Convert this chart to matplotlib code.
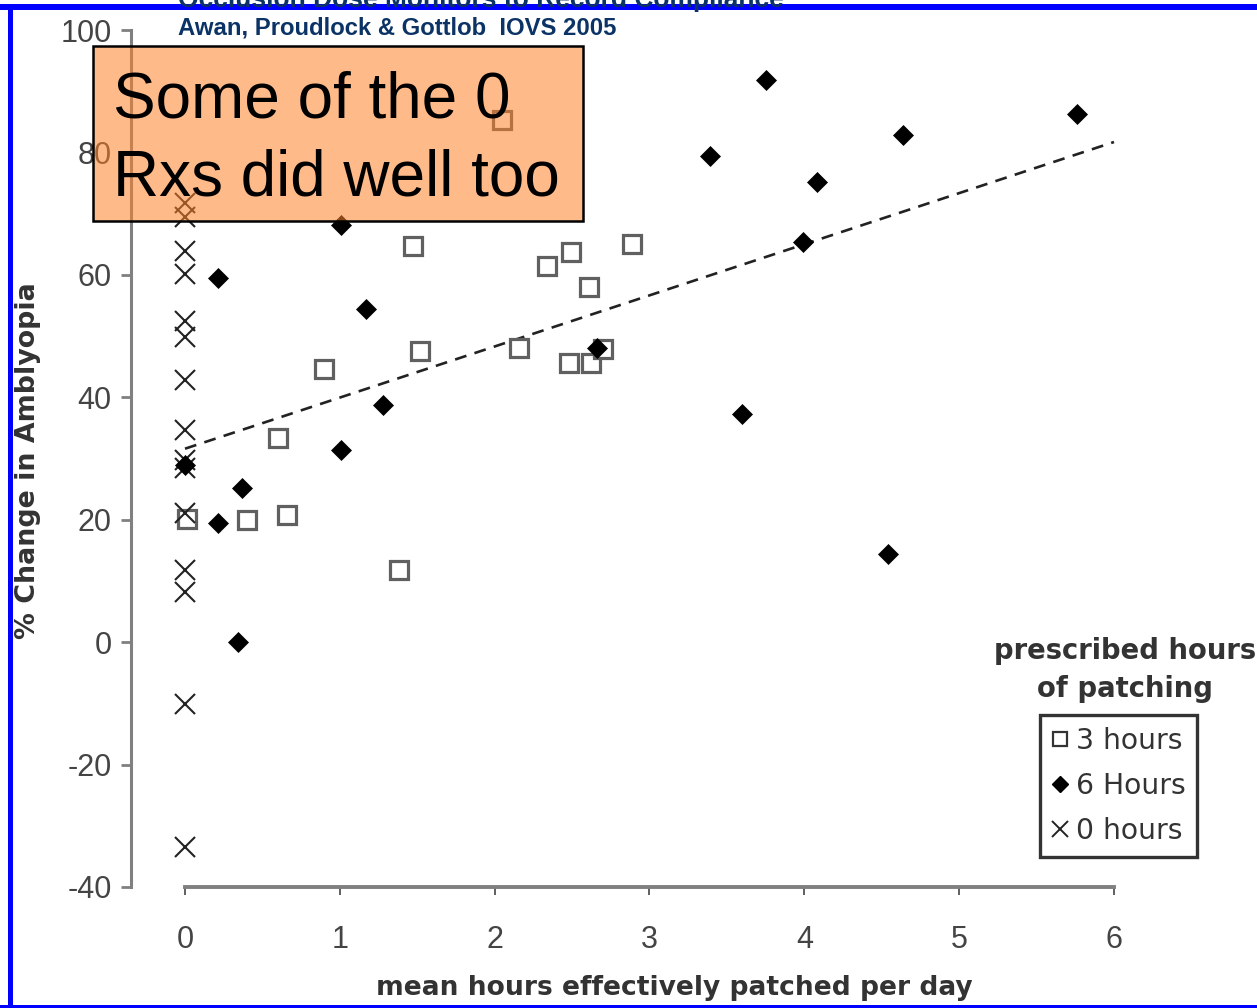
import matplotlib
matplotlib.use('Agg')
import matplotlib.pyplot as plt
from matplotlib.lines import Line2D
from matplotlib.patches import Rectangle

# ---------------- data ----------------
x_3h = [2.05, 1.47, 2.34, 2.49, 2.89, 2.61, 1.52, 2.16, 2.48, 2.62, 2.70, 0.90, 0.60, 0.40, 0.66, 1.38, 0.01]
y_3h = [85.3, 64.7, 61.4, 63.7, 65.0, 58.0, 47.5, 48.0, 45.6, 45.6, 47.9, 44.6, 33.3, 19.9, 20.8, 11.8, 20.1]

x_6h = [3.75, 5.76, 4.64, 3.39, 4.08, 1.01, 3.99, 0.21, 1.17, 2.66, 1.28, 3.60, 1.01, 0.37, 0.21, 0.34, 4.54, 0.00]
y_6h = [91.8, 86.3, 82.8, 79.4, 75.2, 68.1, 65.4, 59.5, 54.5, 48.0, 38.7, 37.3, 31.4, 25.2, 19.5, 0.0, 14.4, 29.0]

x_0h = [0, 0, 0, 0, 0, 0, 0, 0, 0, 0, 0, 0, 0, 0, 0]
y_0h = [71.7, 69.4, 63.9, 60.1, 52.5, 49.9, 42.8, 34.6, 29.8, 28.5, 21.1, 11.8, 8.2, -10.1, -33.5]

trend_x = [0, 6]
trend_y = [31.6, 81.7]

x_ticks = [0, 1, 2, 3, 4, 5, 6]
y_ticks = [-40, -20, 0, 20, 40, 60, 80, 100]

series_labels = ['3 hours', '6 Hours', '0 hours']
title_lines = ['Occlusion Dose Monitors to Record Compliance',
               'Awan, Proudlock & Gottlob  IOVS 2005']
note_lines = ['Some of the 0', 'Rxs did well too']
legend_title = ['prescribed hours', 'of patching']

# ---------------- figure ----------------
W, H = 1257, 1008
fig = plt.figure(figsize=(W / 100, H / 100), dpi=100)
fig.patch.set_facecolor('white')

def fx(px):
    return px / W

def fy(py):
    return 1 - py / H

SANS = ['Liberation Sans', 'DejaVu Sans']

ax = fig.add_axes([fx(131), fy(887), fx(W - 131), (887 - 30) / H])
ax.set_xlim(-0.3488, 6.9237)
ax.set_ylim(-40, 100)

for s in ['top', 'right']:
    ax.spines[s].set_visible(False)
ax.spines['bottom'].set_bounds(0, 6)
ax.spines['bottom'].set_color('#808080')
ax.spines['bottom'].set_linewidth(2.8)
ax.spines['left'].set_color('#808080')
ax.spines['left'].set_linewidth(2.2)

ax.set_xticks(x_ticks)
ax.set_yticks(y_ticks)
ax.set_xticklabels([str(v) for v in x_ticks])
ax.set_yticklabels([str(v) for v in y_ticks])
ax.tick_params(axis='y', direction='out', length=7, width=2, color='#808080',
               pad=7, labelsize=22, labelcolor='#444444')
ax.tick_params(axis='x', direction='out', length=6, width=1.2, color='#444444',
               pad=21, labelsize=22, labelcolor='#444444')
for lab in ax.get_xticklabels() + ax.get_yticklabels():
    lab.set_family(SANS)

# trend line
ax.plot(trend_x, trend_y, linestyle=(0, (4.5, 3.2)), color='#222222', lw=1.9, zorder=2)

# series
ax.plot(x_3h, y_3h, linestyle='none', marker='s', ms=13, mfc='white',
        mec='#606060', mew=2.3, zorder=3)
ax.plot(x_0h, y_0h, linestyle='none', marker='x', ms=15, mec='#222222',
        mew=1.5, zorder=4)
ax.plot(x_6h, y_6h, linestyle='none', marker='D', ms=10, mfc='black',
        mec='black', mew=0.5, zorder=5)

# axis labels
ax.set_xlabel('mean hours effectively patched per day', fontsize=19.1,
              fontweight='bold', color='#333333', family='DejaVu Sans')
ax.xaxis.set_label_coords((674 - 131) / (W - 131), (887 - 988) / 857)
ax.xaxis.label.set_va('center')
ax.set_ylabel('% Change in Amblyopia', fontsize=19.4, fontweight='bold',
              color='#333333', family='DejaVu Sans')
ax.yaxis.set_label_coords((28 - 131) / (W - 131), (887 - 461) / 857)
ax.yaxis.label.set_va('center')

# legend
handles = [
    Line2D([], [], linestyle='none', marker='s', ms=10, mfc='white', mec='#333333', mew=1.6),
    Line2D([], [], linestyle='none', marker='D', ms=8, mfc='black', mec='black'),
    Line2D([], [], linestyle='none', marker='x', ms=12, mec='#222222', mew=1.4),
]
leg = ax.legend(handles, series_labels, loc='upper left',
                bbox_to_anchor=(fx(1040), fy(715)), bbox_transform=fig.transFigure,
                frameon=True, fancybox=False, framealpha=1, edgecolor='#333333',
                borderpad=0.42, borderaxespad=0, handlelength=0.6,
                handletextpad=0.25, labelspacing=0.6,
                prop={'family': 'DejaVu Sans', 'size': 20.3})
leg.get_frame().set_linewidth(2.4)
for t in leg.get_texts():
    t.set_color('#333333')

fig.text(fx(1125), fy(651), legend_title[0], ha='center', va='center',
         fontsize=19.8, fontweight='bold', color='#333333', family='DejaVu Sans')
fig.text(fx(1125), fy(689), legend_title[1], ha='center', va='center',
         fontsize=19.8, fontweight='bold', color='#333333', family='DejaVu Sans')

# blue slide border
blue = '#0000FF'
fig.add_artist(Rectangle((0, fy(10)), 1, 6 / H, transform=fig.transFigure,
                         facecolor=blue, edgecolor='none', zorder=5))
fig.add_artist(Rectangle((fx(8), 0), 5 / W, fy(4), transform=fig.transFigure,
                         facecolor=blue, edgecolor='none', zorder=5))
fig.add_artist(Rectangle((0, 0), 1, 3 / H, transform=fig.transFigure,
                         facecolor=blue, edgecolor='none', zorder=5))

# title (first line partly above the slide edge, as in the source)
navy = '#0B3366'
fig.text(fx(178), fy(7), title_lines[0], ha='left', va='baseline', fontsize=19,
         fontweight='bold', color=navy, family=SANS, zorder=6)
fig.text(fx(178), fy(35), title_lines[1], ha='left', va='baseline', fontsize=17.2,
         fontweight='bold', color=navy, family=SANS, zorder=6)

# orange callout
fig.add_artist(Rectangle((fx(93), fy(221)), (583 - 93) / W, (221 - 46) / H,
                         transform=fig.transFigure,
                         facecolor=(1.0, 0.51, 0.165, 0.55), edgecolor='black',
                         linewidth=1.8, zorder=7))
fig.text(fx(113), fy(118), note_lines[0], ha='left', va='baseline', fontsize=46,
         color='black', family='Liberation Sans', zorder=8)
fig.text(fx(113), fy(195), note_lines[1], ha='left', va='baseline', fontsize=46,
         color='black', family='Liberation Sans', zorder=8)

fig.savefig('out.png', dpi=100, facecolor='white')
